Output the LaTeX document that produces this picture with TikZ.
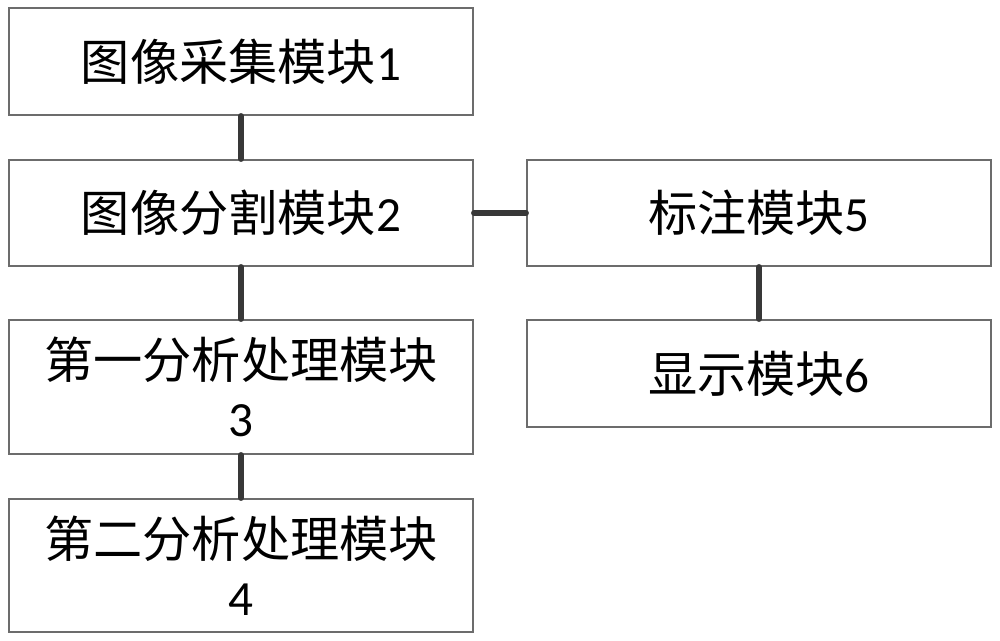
\documentclass[tikz,border=0pt]{standalone}
\usepackage{fontspec}
\setmainfont{Carlito}
\newfontfamily\cjk{Noto Sans CJK SC}
\usetikzlibrary{calc}
\colorlet{bordercol}{gray!85!black}
\colorlet{linkcol}{black!78}
\tikzset{
  modbox/.style={
    draw=bordercol, fill=white, line width=1.1pt,
    minimum width=9.28cm, minimum height=#1, inner sep=0pt,
    align=center, font=\fontsize{28}{33}\selectfont
  },
  modbox/.default=2.14cm,
  link/.style={draw=linkcol, line width=3.3pt, line cap=round},
}

\begin{document}
\begin{tikzpicture}

\useasboundingbox (0,0) rectangle (20,-12.82);

%% --- left column ---
\node[modbox] (m1) at (4.82, -1.23) {{\cjk 图像采集模块}1};
\node[modbox=2.12cm] (m2) at (4.82, -4.26) {{\cjk 图像分割模块}2};
\node[modbox=2.68cm] (m3) at (4.82, -7.74) {{\cjk 第一分析处理模块}\\3};
\node[modbox=2.66cm] (m4) at (4.82, -11.31) {{\cjk 第二分析处理模块}\\4};

%% --- right column ---
\node[modbox=2.12cm] (m5) at (15.18, -4.26) {{\cjk 标注模块}5};
\node[modbox] (m6) at (15.18, -7.47) {{\cjk 显示模块}6};

%% links
\draw[link] (m1.south) -- (m2.north);
\draw[link] (m2.south) -- (m3.north);
\draw[link] (m3.south) -- (m4.north);
\draw[link] (m2.east) -- (m5.west);
\draw[link] (m5.south) -- (m6.north);

\end{tikzpicture}
\end{document}
